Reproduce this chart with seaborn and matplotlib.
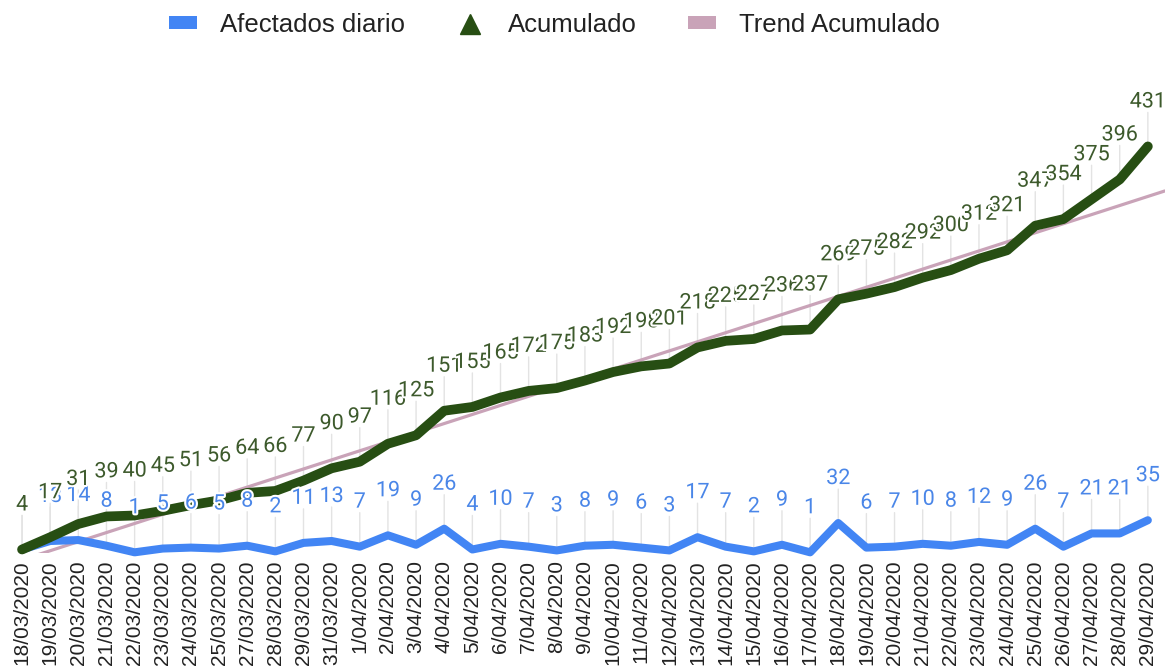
import seaborn as sns
import matplotlib.pyplot as plt
import matplotlib.patheffects as pe
from matplotlib.lines import Line2D
from matplotlib.patches import Patch
import pandas as pd
import numpy as np

sns.set_style("white")
plt.rcParams["font.family"] = ["Liberation Sans", "DejaVu Sans"]

# data
fechas = ["18/03/2020", "19/03/2020", "20/03/2020", "21/03/2020", "22/03/2020",
          "23/03/2020", "24/03/2020", "25/03/2020", "27/03/2020", "28/03/2020",
          "29/03/2020", "31/03/2020", "1/04/2020", "2/04/2020", "3/04/2020",
          "4/04/2020", "5/04/2020", "6/04/2020", "7/04/2020", "8/04/2020",
          "9/04/2020", "10/04/2020", "11/04/2020", "12/04/2020", "13/04/2020",
          "14/04/2020", "15/04/2020", "16/04/2020", "17/04/2020", "18/04/2020",
          "19/04/2020", "20/04/2020", "21/04/2020", "22/04/2020", "23/04/2020",
          "24/04/2020", "25/04/2020", "26/04/2020", "27/04/2020", "28/04/2020",
          "29/04/2020"]
diario = [4, 13, 14, 8, 1, 5, 6, 5, 8, 2, 11, 13, 7, 19, 9, 26, 4, 10, 7, 3, 8,
          9, 6, 3, 17, 7, 2, 9, 1, 32, 6, 7, 10, 8, 12, 9, 26, 7, 21, 21, 35]
acumulado = [4, 17, 31, 39, 40, 45, 51, 56, 64, 66, 77, 90, 97, 116, 125, 151,
             155, 165, 172, 175, 183, 192, 198, 201, 218, 225, 227, 236, 237,
             269, 275, 282, 292, 300, 312, 321, 347, 354, 375, 396, 431]

df = pd.DataFrame({"idx": np.arange(len(fechas)), "fecha": fechas,
                   "diario": diario, "acumulado": acumulado})

c_blue = "#4285f4"
c_green = "#274e13"
c_trend = "#c9a3b8"
c_blue_txt = "#4a86e8"
c_green_txt = "#3d5a2c"

fig = plt.figure(figsize=(11.72, 6.69), dpi=100)
ax = fig.add_axes([0.0068, 0.173, 0.987, 0.7055])
ax.set_xlim(-0.5, 40.6)
ax.set_ylim(0, 500)

# trend line across the whole axis
sns.regplot(data=df, x="idx", y="acumulado", scatter=False, ci=None,
            truncate=False, ax=ax,
            line_kws=dict(color=c_trend, lw=2.3, zorder=3))

sns.lineplot(data=df, x="idx", y="diario", ax=ax, color=c_blue, lw=5.8,
             zorder=4, clip_on=False)
sns.lineplot(data=df, x="idx", y="acumulado", ax=ax, color=c_green, lw=7,
             zorder=5, clip_on=False)

stroke = [pe.withStroke(linewidth=3, foreground="white")]
for col, tc in [("diario", c_blue_txt), ("acumulado", c_green_txt)]:
    for i, v in zip(df["idx"], df[col]):
        # stem from point to label, behind the lines
        ax.annotate("", xy=(i, v), xytext=(0, 34), textcoords="offset pixels",
                    zorder=1,
                    arrowprops=dict(arrowstyle="-", color="#e3e3e3", lw=1,
                                    shrinkA=0, shrinkB=0),
                    annotation_clip=False)
        ax.annotate(str(v), xy=(i, v), xytext=(0, 34), textcoords="offset pixels",
                    ha="center", va="bottom", fontsize=15.5, color=tc,
                    family=["Roboto", "DejaVu Sans"], zorder=6,
                    path_effects=stroke, annotation_clip=False)

ax.set_xticks(df["idx"])
ax.set_xticklabels(fechas, rotation=90, fontsize=15, color="#222222", va="top")
ax.tick_params(axis="x", length=0, pad=5)
ax.set_yticks([])
ax.set_xlabel("")
ax.set_ylabel("")
sns.despine(ax=ax, left=True, bottom=True)

handles = [Patch(facecolor=c_blue, edgecolor="none"),
           Line2D([], [], marker="^", color=c_green, linestyle="none", markersize=14),
           Patch(facecolor=c_trend, edgecolor="none")]
fig.legend(handles, ["Afectados diario", "Acumulado", "Trend Acumulado"],
           loc="center", bbox_to_anchor=(0.473, 0.963), ncol=3, frameon=False,
           fontsize=18.5, handlelength=1.1, handleheight=0.35, handletextpad=0.9,
           columnspacing=2.0, labelcolor="#222222")

fig.savefig("out.png", dpi=100)
